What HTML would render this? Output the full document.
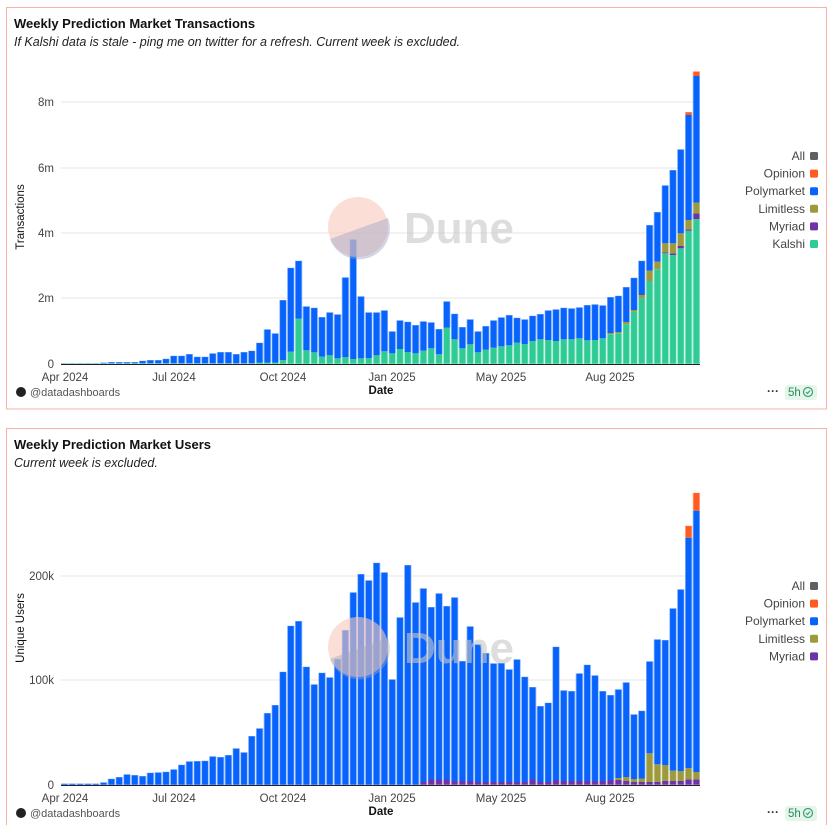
<!DOCTYPE html>
<html><head><meta charset="utf-8"><style>
body{margin:0;width:828px;height:825px;overflow:hidden;background:#fff;font-family:"Liberation Sans",sans-serif}
svg{position:absolute;left:0;top:0}
</style></head><body>
<svg id="s" width="828" height="825" xmlns="http://www.w3.org/2000/svg" font-family="Liberation Sans, sans-serif">
<rect x="6.5" y="7.5" width="820" height="401.5" fill="none" stroke="#f6b3a5" stroke-width="1"/>
<rect x="6.5" y="428.5" width="820" height="410" fill="none" stroke="#f6b3a5" stroke-width="1"/>
<text x="14" y="28" font-size="13" font-weight="bold" fill="#111">Weekly Prediction Market Transactions</text>
<text x="14" y="46" font-size="12.5" font-style="italic" fill="#222">If Kalshi data is stale - ping me on twitter for a refresh. Current week is excluded.</text>
<text x="14" y="449" font-size="13" font-weight="bold" fill="#111">Weekly Prediction Market Users</text>
<text x="14" y="467" font-size="12.5" font-style="italic" fill="#222">Current week is excluded.</text>
<g id="c1"></g><g id="c2"></g>
</svg>
<script>
const S=document.getElementById('s');const NS='http://www.w3.org/2000/svg';
function el(t,a,p,txt){const e=document.createElementNS(NS,t);for(const k in a)e.setAttribute(k,a[k]);if(txt!==undefined)e.textContent=txt;(p||S).appendChild(e);return e;}
const C={k:'#2fcb94',m:'#6b34a8',l:'#9d9a3c',p:'#0763fb',o:'#ff5a1f',a:'#5f6064'};
const T1=[363,363,363,363,363,362.5,362,362,362,362,360.7,360,360,358.7,355.7,355.7,354,356.7,356.7,353.3,352,352,354,352,350.7,342.7,329.3,333.3,300,267.7,260.7,306.3,307.7,317,312.3,314.3,277.3,239.3,296.3,312.3,312.3,310.3,331.3,320.3,321.7,325,321.3,322.3,329,301.3,313.7,327,319.3,331.3,326,320.3,317.3,315,317.7,319.3,315.7,314,310.3,309.3,307.7,308.3,307.3,305,304.3,305.3,297,295.7,287,277.7,260.7,225,212,185.3,170,149.3,115,76];
const G1=[];for(let i=0;i<82;i++)G1.push(i<25?363.3:362.5);
const g1v={28:360,29:351.7,30:318.7,31:350.3,32:352.3,33:356.7,34:355.3,35:358.3,36:357,37:359,38:358.3,39:358,40:355.3,41:351.3,42:353.3,43:349,44:352,45:353.3,46:350.7,47:348.3,48:354.3,49:327.7,50:339.3,51:348.3,52:344.3,53:352.3,54:349.7,55:347.7,56:346.3,57:345.3,58:342.7,59:344,60:341,61:339.3,62:340,63:341,64:339.3,65:339.3,66:338.3,67:340.3,68:340,69:338.3,70:334.3,71:333.3,72:324.3,73:311.7,74:298.3,75:281,76:269.3,77:253.3,78:255,79:248.3,80:230.7,81:219};
for(const k in g1v)G1[k]=g1v[k];
const M1=G1.slice();Object.assign(M1,{77:252.3,78:253.3,79:246,80:229.3,81:213.3});
const L1=M1.slice();Object.assign(L1,{70:333,71:332,72:322,73:310,74:295,75:270.7,76:261.7,77:243.3,78:243.3,79:233.3,80:220,81:202.7});
const O1={80:112,81:71.3};
const T2=[783.5,783.5,783.5,783.5,783.5,782.3,778.7,777,774.3,775,776,772.7,772.3,771.7,769.3,764.7,761.3,761,760.7,756.3,757,755,748.3,752.3,736,728.3,713,705,671.7,625.7,621,666.7,684.3,672.7,677.3,659,630,592.3,574,580.3,562.7,572.3,679.3,617.3,565,602.3,588.3,607,593.3,606,597.3,661,626.3,644.3,653,663.3,663,669.3,659.3,676.7,687,706,702.7,646.7,690.3,691,673.3,664.7,675.3,691,695,689.3,682.3,714.3,710.7,661.3,639.3,640,608.3,589.3,537.7,510.7];
const M2=[];for(let i=0;i<82;i++)M2.push(i<46?785:782);
Object.assign(M2,{47:779.5,48:779.5,49:779.5,50:781,51:781,52:781,60:779.5,63:780,64:781,65:781,66:781,67:781,68:781,69:781,70:780,71:780,72:781,77:781,78:781,79:781,80:779.3,81:779.3});
const L2=M2.slice();Object.assign(L2,{71:778,72:777,73:779,74:778.5,75:753.3,76:764.3,77:765,78:770.7,79:771,80:768,81:772});
const O2={80:525.7,81:492.7};
function chart(g,base,T,G,M,L,O,grid,labs,ytitle,ty,legend,ly,wy){
  const p=document.getElementById(g);
  grid.forEach(([y,t])=>{if(t!=='0')el('line',{x1:61,x2:700,y1:y,y2:y,stroke:'#e6e6e6','stroke-width':1},p);el('text',{x:54,y:y+4,'font-size':11.5,fill:'#444','text-anchor':'end'},p,t);});
  for(let i=0;i<82;i++){const x=61+7.8*i;
    const segs=[[base,G[i],C.k],[G[i],M[i],C.m],[M[i],L[i],C.l],[L[i],T[i],C.p]];
    if(O[i])segs.push([T[i],O[i],C.o]);
    segs.forEach(([b,t,c])=>{if(b-t>0.2)el('rect',{x:x,y:t,width:7.2,height:b-t,fill:c},p);});
    const top=O[i]||T[i];
    el('rect',{x:x+0.3,y:top,width:6.6,height:base-top,fill:'none',stroke:'rgba(255,255,255,0.55)','stroke-width':0.8},p);
  }
  el('line',{x1:61,x2:700,y1:base+0.5,y2:base+0.5,stroke:'#222','stroke-width':1},p);
  [['Apr 2024',65],['Jul 2024',174],['Oct 2024',283],['Jan 2025',392],['May 2025',501],['Aug 2025',610]].forEach(([t,x])=>el('text',{x:x,y:base+17,'font-size':11.5,fill:'#444','text-anchor':'middle'},p,t));
  el('text',{x:381,y:base+30,'font-size':11.5,'font-weight':'bold',fill:'#111','text-anchor':'middle'},p,'Date');
  el('text',{x:0,y:0,'font-size':11.5,fill:'#111','text-anchor':'middle',transform:`translate(24 ${ty}) rotate(-90)`},p,ytitle);
  legend.forEach((t,j)=>{const y=ly+j*17.6;el('text',{x:805,y:y+4,'font-size':12,fill:'#444','text-anchor':'end'},p,t[0]);el('rect',{x:810,y:y-4,width:8,height:8,rx:1.5,fill:t[1]},p);});
  // watermark
  const cy=wy;
  el('circle',{cx:358,cy:cy,r:30,fill:'#f9c9bd',opacity:0.6},p);
  el('path',{d:`M330,${cy+12} L388,${cy-9} A30,30 0 0 1 330,${cy+12} Z`,fill:'#9fa5c6',opacity:0.45},p);
  el('text',{x:404,y:cy+16,'font-size':44,'font-weight':'bold',fill:'#c8c8c8',opacity:0.6},p,'Dune');
  // footer
  const fy=base+28;
  el('circle',{cx:21,cy:fy,r:5,fill:'#222'},p);
  el('text',{x:30,y:fy+4,'font-size':11,fill:'#555'},p,'@datadashboards');
  el('text',{x:773,y:fy+3,'font-size':12,'font-weight':'bold',fill:'#333','text-anchor':'middle'},p,'···');
  el('rect',{x:785,y:fy-7,width:32,height:15,rx:3,fill:'#e5f5ec'},p);
  el('text',{x:788,y:fy+4,'font-size':11.5,fill:'#2a8a5a'},p,'5h');
  el('circle',{cx:808,cy:fy,r:4.5,fill:'none',stroke:'#3aa070','stroke-width':1.2},p);
  el('path',{d:`M806,${fy} l1.5,1.5 l2.5,-3`,fill:'none',stroke:'#3aa070','stroke-width':1.1},p);
}
chart('c1',364,T1,G1,M1,L1,O1,[[102,'8m'],[168,'6m'],[233,'4m'],[298,'2m'],[364,'0']],null,'Transactions',217,
 [['All',C.a],['Opinion',C.o],['Polymarket',C.p],['Limitless',C.l],['Myriad',C.m],['Kalshi',C.k]],156,227);
chart('c2',785,T2,M2.map(()=>785),M2,L2,O2,[[576,'200k'],[680,'100k'],[785,'0']],null,'Unique Users',628,
 [['All',C.a],['Opinion',C.o],['Polymarket',C.p],['Limitless',C.l],['Myriad',C.m]],586,647);
</script>
</body></html>
